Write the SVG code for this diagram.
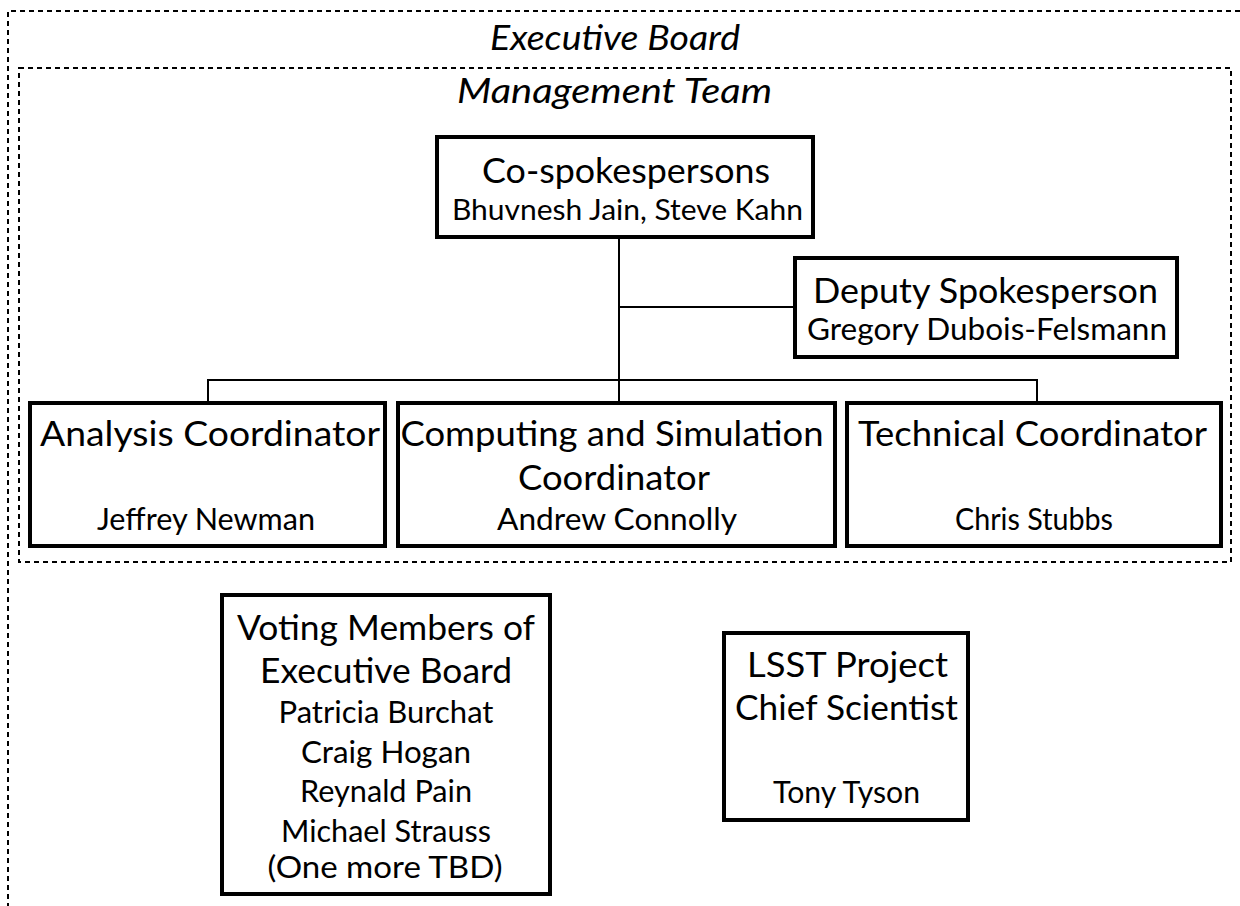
<svg xmlns="http://www.w3.org/2000/svg" width="1240" height="906" viewBox="0 0 1240 906">
<style>
  .bg { fill: #ffffff; }
  .dash { fill: none; stroke: #000; stroke-width: 2; stroke-dasharray: 5 4; }
  .box { fill: #ffffff; stroke: #000; stroke-width: 4; }
  .conn { fill: none; stroke: #000; stroke-width: 2; }
  text { font-family: Lato, "Open Sans", "Liberation Sans", sans-serif; fill: #000; text-anchor: middle; }
  .title { font-size: 35px; font-style: italic; }
  .big { font-size: 35px; }
  .name { font-size: 31px; }
  .name2 { font-size: 28px; }
</style>
<rect class="bg" x="0" y="0" width="1240" height="906"/>

<g id="executive-board">
  <path class="dash" d="M1240,11 H8 V906"/>
  <text class="title" x="615" y="50" textLength="250" lengthAdjust="spacingAndGlyphs">Executive Board</text>
</g>

<g id="management-team">
  <rect class="dash" x="19" y="68" width="1212" height="494"/>
  <text class="title" x="614.5" y="103" textLength="315" lengthAdjust="spacingAndGlyphs">Management Team</text>
</g>

<g id="connectors">
  <line class="conn" x1="619" y1="237" x2="619" y2="403"/>
  <line class="conn" x1="619" y1="307" x2="795" y2="307"/>
  <path class="conn" d="M208,403 V380 H1037 V403"/>
</g>

<g id="co-spokespersons">
  <rect class="box" x="437" y="137" width="376" height="100"/>
  <text class="big" x="626" y="183" textLength="288" lengthAdjust="spacingAndGlyphs">Co-spokespersons</text>
  <text class="name2" x="627.5" y="220" textLength="351" lengthAdjust="spacingAndGlyphs">Bhuvnesh Jain, Steve Kahn</text>
</g>

<g id="deputy-spokesperson">
  <rect class="box" x="795" y="258" width="382" height="99"/>
  <text class="big" x="985.5" y="303" textLength="345" lengthAdjust="spacingAndGlyphs">Deputy Spokesperson</text>
  <text class="name" x="987" y="340" textLength="360" lengthAdjust="spacingAndGlyphs">Gregory Dubois-Felsmann</text>
</g>

<g id="analysis-coordinator">
  <rect class="box" x="30" y="403" width="355" height="143"/>
  <text class="big" x="210" y="446" textLength="340" lengthAdjust="spacingAndGlyphs">Analysis Coordinator</text>
  <text class="name" x="206" y="530" textLength="218" lengthAdjust="spacingAndGlyphs">Jeffrey Newman</text>
</g>

<g id="computing-coordinator">
  <rect class="box" x="398" y="403" width="437" height="143"/>
  <text class="big" x="612" y="446" textLength="423" lengthAdjust="spacingAndGlyphs">Computing and Simulation</text>
  <text class="big" x="614" y="490" textLength="192" lengthAdjust="spacingAndGlyphs">Coordinator</text>
  <text class="name" x="617" y="530" textLength="240" lengthAdjust="spacingAndGlyphs">Andrew Connolly</text>
</g>

<g id="technical-coordinator">
  <rect class="box" x="847" y="403" width="374" height="143"/>
  <text class="big" x="1032.5" y="446" textLength="349" lengthAdjust="spacingAndGlyphs">Technical Coordinator</text>
  <text class="name" x="1034" y="530" textLength="158" lengthAdjust="spacingAndGlyphs">Chris Stubbs</text>
</g>

<g id="voting-members">
  <rect class="box" x="222" y="595" width="328" height="299"/>
  <text class="big" x="386" y="640" textLength="298" lengthAdjust="spacingAndGlyphs">Voting Members of</text>
  <text class="big" x="386" y="683" textLength="252" lengthAdjust="spacingAndGlyphs">Executive Board</text>
  <text class="name" x="386" y="723" textLength="215" lengthAdjust="spacingAndGlyphs">Patricia Burchat</text>
  <text class="name" x="386" y="763" textLength="170" lengthAdjust="spacingAndGlyphs">Craig Hogan</text>
  <text class="name" x="386" y="802" textLength="172" lengthAdjust="spacingAndGlyphs">Reynald Pain</text>
  <text class="name" x="386" y="842" textLength="210" lengthAdjust="spacingAndGlyphs">Michael Strauss</text>
  <text class="name" x="385" y="878" textLength="235" lengthAdjust="spacingAndGlyphs">(One more TBD)</text>
</g>

<g id="lsst-chief-scientist">
  <rect class="box" x="724" y="633" width="244" height="187"/>
  <text class="big" x="847.5" y="677" textLength="201" lengthAdjust="spacingAndGlyphs">LSST Project</text>
  <text class="big" x="846.5" y="720" textLength="223" lengthAdjust="spacingAndGlyphs">Chief Scientist</text>
  <text class="name" x="846.5" y="803" textLength="147" lengthAdjust="spacingAndGlyphs">Tony Tyson</text>
</g>
</svg>
